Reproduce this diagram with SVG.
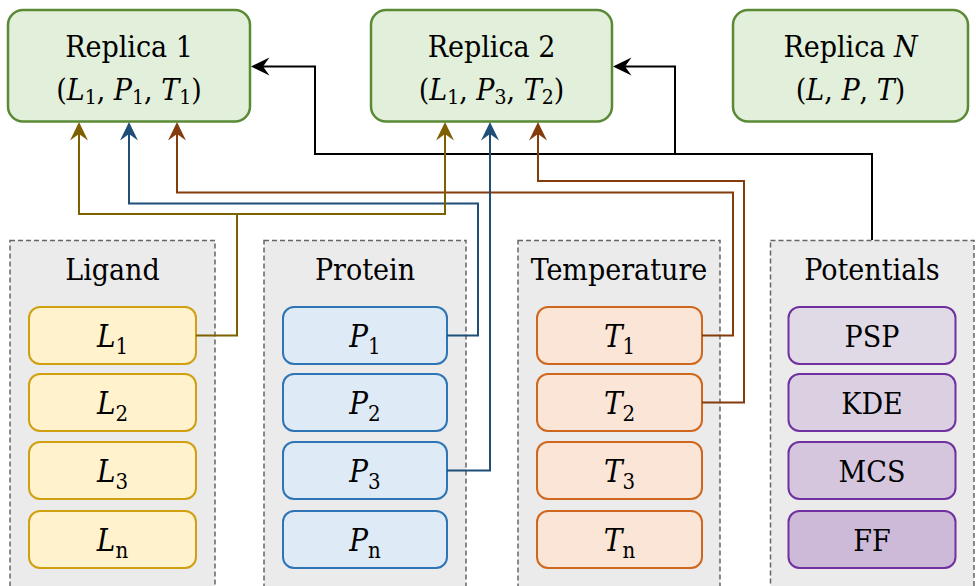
<svg xmlns="http://www.w3.org/2000/svg" width="976" height="586" viewBox="0 0 976 586">
<style>
text{font-family:"DejaVu Serif Condensed","DejaVu Serif",serif;fill:#000;text-anchor:middle}
.t{font-size:30px}
.m{font-size:30px}
.it{font-size:31px}
.i{font-style:italic}
.s{font-size:21px}
.si{font-size:22px}
.rep{fill:#e2efda;stroke:#5a8a35;stroke-width:2.5}
.grp{fill:#ebebeb;stroke:#666;stroke-width:1.5;stroke-dasharray:5 3}
.lig{fill:#fff2cc;stroke:#d0a010;stroke-width:2}
.pro{fill:#deeaf6;stroke:#2e75b6;stroke-width:2}
.tem{fill:#fbe5d6;stroke:#d0671e;stroke-width:2}
.pot{stroke:#7030a0;stroke-width:2}
.c{fill:none;stroke-width:2}
</style>
<defs>
<marker id="aG" markerUnits="userSpaceOnUse" viewBox="-20 -10 22 20" refX="-12" refY="0" markerWidth="22" markerHeight="20" orient="auto"><path d="M0,0 L-18.5,-9 L-12,0 L-18.5,9 Z" fill="#7f6000"/></marker>
<marker id="aB" markerUnits="userSpaceOnUse" viewBox="-20 -10 22 20" refX="-12" refY="0" markerWidth="22" markerHeight="20" orient="auto"><path d="M0,0 L-18.5,-9 L-12,0 L-18.5,9 Z" fill="#1f4e79"/></marker>
<marker id="aR" markerUnits="userSpaceOnUse" viewBox="-20 -10 22 20" refX="-12" refY="0" markerWidth="22" markerHeight="20" orient="auto"><path d="M0,0 L-18.5,-9 L-12,0 L-18.5,9 Z" fill="#843c0c"/></marker>
<marker id="aK" markerUnits="userSpaceOnUse" viewBox="-20 -10 22 20" refX="-12" refY="0" markerWidth="22" markerHeight="20" orient="auto"><path d="M0,0 L-18.5,-9 L-12,0 L-18.5,9 Z" fill="#000"/></marker>
</defs>

<g id="replica1">
<rect class="rep" x="8" y="10" width="242" height="111.5" rx="15"/>
<text class="t" x="129" y="57">Replica 1</text>
<text class="m" x="129" y="100">(<tspan class="i">L</tspan><tspan class="s" dy="4">1</tspan><tspan dy="-4">, </tspan><tspan class="i">P</tspan><tspan class="s" dy="4">1</tspan><tspan dy="-4">, </tspan><tspan class="i">T</tspan><tspan class="s" dy="4">1</tspan><tspan dy="-4">)</tspan></text>
</g>
<g id="replica2">
<rect class="rep" x="371" y="10" width="241" height="111.5" rx="15"/>
<text class="t" x="491.5" y="57">Replica 2</text>
<text class="m" x="491.5" y="100">(<tspan class="i">L</tspan><tspan class="s" dy="4">1</tspan><tspan dy="-4">, </tspan><tspan class="i">P</tspan><tspan class="s" dy="4">3</tspan><tspan dy="-4">, </tspan><tspan class="i">T</tspan><tspan class="s" dy="4">2</tspan><tspan dy="-4">)</tspan></text>
</g>
<g id="replicaN">
<rect class="rep" x="733" y="10" width="235" height="111.5" rx="15"/>
<text class="t" x="850.5" y="57">Replica <tspan class="i">N</tspan></text>
<text class="m" x="850.5" y="100">(<tspan class="i">L</tspan>, <tspan class="i">P</tspan>, <tspan class="i">T</tspan>)</text>
</g>

<g id="ligand">
<rect class="grp" x="10" y="240.5" width="205" height="360"/>
<text class="t" x="112.5" y="280">Ligand</text>
<g id="L1"><rect class="lig" x="29" y="307" width="167" height="57" rx="11"/><text class="it" x="112.5" y="347"><tspan class="i">L</tspan><tspan class="si" dy="7">1</tspan></text></g>
<g id="L2"><rect class="lig" x="29" y="374" width="167" height="57" rx="11"/><text class="it" x="112.5" y="414"><tspan class="i">L</tspan><tspan class="si" dy="7">2</tspan></text></g>
<g id="L3"><rect class="lig" x="29" y="442" width="167" height="57" rx="11"/><text class="it" x="112.5" y="482"><tspan class="i">L</tspan><tspan class="si" dy="7">3</tspan></text></g>
<g id="Ln"><rect class="lig" x="29" y="511" width="167" height="57" rx="11"/><text class="it" x="112.5" y="551"><tspan class="i">L</tspan><tspan class="si" dy="7">n</tspan></text></g>
</g>

<g id="protein">
<rect class="grp" x="264" y="240.5" width="202" height="360"/>
<text class="t" x="365" y="280">Protein</text>
<g id="P1"><rect class="pro" x="283" y="307" width="164" height="57" rx="11"/><text class="it" x="365" y="347"><tspan class="i">P</tspan><tspan class="si" dy="7">1</tspan></text></g>
<g id="P2"><rect class="pro" x="283" y="374" width="164" height="57" rx="11"/><text class="it" x="365" y="414"><tspan class="i">P</tspan><tspan class="si" dy="7">2</tspan></text></g>
<g id="P3"><rect class="pro" x="283" y="442" width="164" height="57" rx="11"/><text class="it" x="365" y="482"><tspan class="i">P</tspan><tspan class="si" dy="7">3</tspan></text></g>
<g id="Pn"><rect class="pro" x="283" y="511" width="164" height="57" rx="11"/><text class="it" x="365" y="551"><tspan class="i">P</tspan><tspan class="si" dy="7">n</tspan></text></g>
</g>

<g id="temperature">
<rect class="grp" x="518" y="240.5" width="202" height="360"/>
<text class="t" x="619" y="280">Temperature</text>
<g id="T1"><rect class="tem" x="537" y="307" width="165" height="57" rx="11"/><text class="it" x="619.5" y="347"><tspan class="i">T</tspan><tspan class="si" dy="7">1</tspan></text></g>
<g id="T2"><rect class="tem" x="537" y="374" width="165" height="57" rx="11"/><text class="it" x="619.5" y="414"><tspan class="i">T</tspan><tspan class="si" dy="7">2</tspan></text></g>
<g id="T3"><rect class="tem" x="537" y="442" width="165" height="57" rx="11"/><text class="it" x="619.5" y="482"><tspan class="i">T</tspan><tspan class="si" dy="7">3</tspan></text></g>
<g id="Tn"><rect class="tem" x="537" y="511" width="165" height="57" rx="11"/><text class="it" x="619.5" y="551"><tspan class="i">T</tspan><tspan class="si" dy="7">n</tspan></text></g>
</g>

<g id="potentials">
<rect class="grp" x="770.5" y="240.5" width="203.5" height="360"/>
<text class="t" x="872" y="280">Potentials</text>
<g id="PSP"><rect class="pot" fill="#e0dae6" x="788.5" y="307" width="167" height="57" rx="11"/><text class="t" x="872" y="347">PSP</text></g>
<g id="KDE"><rect class="pot" fill="#dbd0e2" x="788.5" y="374" width="167" height="57" rx="11"/><text class="t" x="872" y="414">KDE</text></g>
<g id="MCS"><rect class="pot" fill="#d5c6de" x="788.5" y="442" width="167" height="57" rx="11"/><text class="t" x="872" y="482">MCS</text></g>
<g id="FF"><rect class="pot" fill="#cdbad9" x="788.5" y="511" width="167" height="57" rx="11"/><text class="t" x="872" y="551">FF</text></g>
</g>

<g id="connectors">
<path class="c" stroke="#000" d="M872,240 V154 H315 V66.5 H263" marker-end="url(#aK)"/>
<path class="c" stroke="#000" d="M675,154 V66.5 H625" marker-end="url(#aK)"/>
<path class="c" stroke="#843c0c" d="M702,402.5 H744 V181 H538 V134" marker-end="url(#aR)"/>
<path class="c" stroke="#843c0c" d="M702,335.5 H733 V192.5 H177 V134" marker-end="url(#aR)"/>
<path class="c" stroke="#1f4e79" d="M447,335.5 H478 V203.5 H129 V134" marker-end="url(#aB)"/>
<path class="c" stroke="#1f4e79" d="M447,470.5 H490 V134" marker-end="url(#aB)"/>
<path class="c" stroke="#7f6000" d="M196,335.5 H237 V214 H79 V134" marker-end="url(#aG)"/>
<path class="c" stroke="#7f6000" d="M237,214 H445 V134" marker-end="url(#aG)"/>
</g>
</svg>
